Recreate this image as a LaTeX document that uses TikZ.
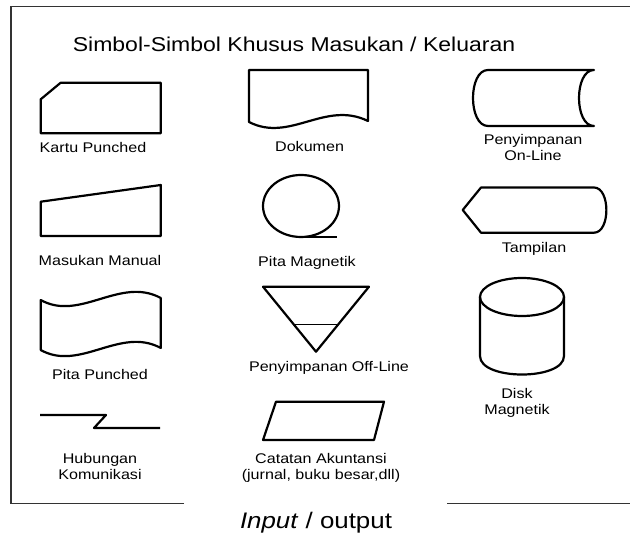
\documentclass[tikz,border=0pt]{standalone}
\usepackage{fontspec}
\setmainfont[FakeStretch=1.15]{Liberation Sans}

\begin{document}
\begin{tikzpicture}[x=1pt,y=-1pt,
        symbol/.style={line width=2.2pt, line join=round},
        symtext/.style={font=\fontsize{14}{16.5}\selectfont, align=center,
            inner sep=0pt, text height=10pt, text depth=0pt},
        symtexttwo/.style={symtext, text height=26.5pt}]
        \useasboundingbox (0,0) rectangle (630,537);

        % Frame, left open at the bottom for the caption
        \draw[line width=1.4pt, black!80] (184,503.5) -- (11,503.5) -- (11,6.5) -- (632,6.5);
        \draw[line width=1.4pt, black!80] (447,503.5) -- (632,503.5);

        % Title and caption
        \node[font=\fontsize{20}{24}\selectfont, inner sep=0pt, text height=14pt, text depth=0pt]
            (title) at (294,45) {Simbol-Simbol Khusus Masukan / Keluaran};
        \node[font=\fontsize{22.5}{26}\selectfont, inner sep=0pt, text height=16pt, text depth=0pt]
            (caption) at (316,521) {\textit{Input} / output};

        % Kartu punched
        \draw[symbol] (40.7,133.3) -- (40.7,99.3) -- (60.7,82.7) -- (160.8,82.7) -- (160.8,133.3) -- cycle;
        \node[symtext] (kartu) at (93,148) {Kartu Punched};

        % Masukan manual
        \draw[symbol] (40.7,236) -- (40.7,201.7) -- (160.8,185) -- (160.8,236) -- cycle;
        \node[symtext] (manual) at (100,260.7) {Masukan Manual};

        % Pita punched
        \draw[symbol] (40.7,300) .. controls (80,322) and (120,276) .. (160.8,298)
            -- (160.8,348) .. controls (120,326) and (80,372) .. (40.7,350) -- cycle;
        \node[symtext] (pitapunched) at (100,375) {Pita Punched};

        % Hubungan komunikasi
        \draw[symbol] (40,415) -- (106,415) -- (94,428) -- (160,428);
        \node[symtexttwo] (hubungan) at (100,466.5) {Hubungan\\Komunikasi};

        % Dokumen
        \draw[symbol] (249,122) -- (249,70) -- (368,70) -- (368,121)
            .. controls (325,100) and (290,143) .. cycle;
        \node[symtext] (dokumen) at (309.6,147) {Dokumen};

        % Pita magnetik
        \draw[symbol] (301,206) ellipse [x radius=38, y radius=31];
        \draw[symbol] (301,237) -- (337,237);
        \node[symtext] (pitamagnetik) at (307,261.7) {Pita Magnetik};

        % Penyimpanan off-line
        \draw[symbol] (263,286.7) -- (369,286.7) -- (316,351.7) -- cycle;
        \draw[line width=1pt] (294.2,325) -- (337.8,325);
        \node[symtext] (offline) at (329,366.7) {Penyimpanan Off-Line};

        % Catatan akuntansi
        \draw[symbol] (276,401.7) -- (384,401.7) -- (374,440) -- (263,440) -- cycle;
        \node[symtexttwo] (catatan) at (321,466.5) {Catatan Akuntansi\\(jurnal, buku besar,dll)};

        % Penyimpanan on-line
        \draw[symbol] (594,70) -- (488,70) .. controls (468,70) and (468,126) .. (488,126)
            -- (594,126) .. controls (574,126) and (574,70) .. cycle;
        \node[symtexttwo] (online) at (533,147.5) {Penyimpanan\\On-Line};

        % Tampilan
        \draw[symbol] (462.7,210) -- (481,187.5) -- (594,187.5) .. controls (610.5,187.5) and (610.5,232.7) .. (594,232.7)
            -- (481,232.7) -- cycle;
        \node[symtext] (tampilan) at (534,248) {Tampilan};

        % Disk magnetik
        \draw[symbol] (522,297) ellipse [x radius=42, y radius=19];
        \draw[symbol] (480,297) -- (480,356) .. controls (480,380.7) and (564,380.7) .. (564,356) -- (564,297);
        \node[symtexttwo] (disk) at (517,401.5) {Disk\\Magnetik};
\end{tikzpicture}
\end{document}
